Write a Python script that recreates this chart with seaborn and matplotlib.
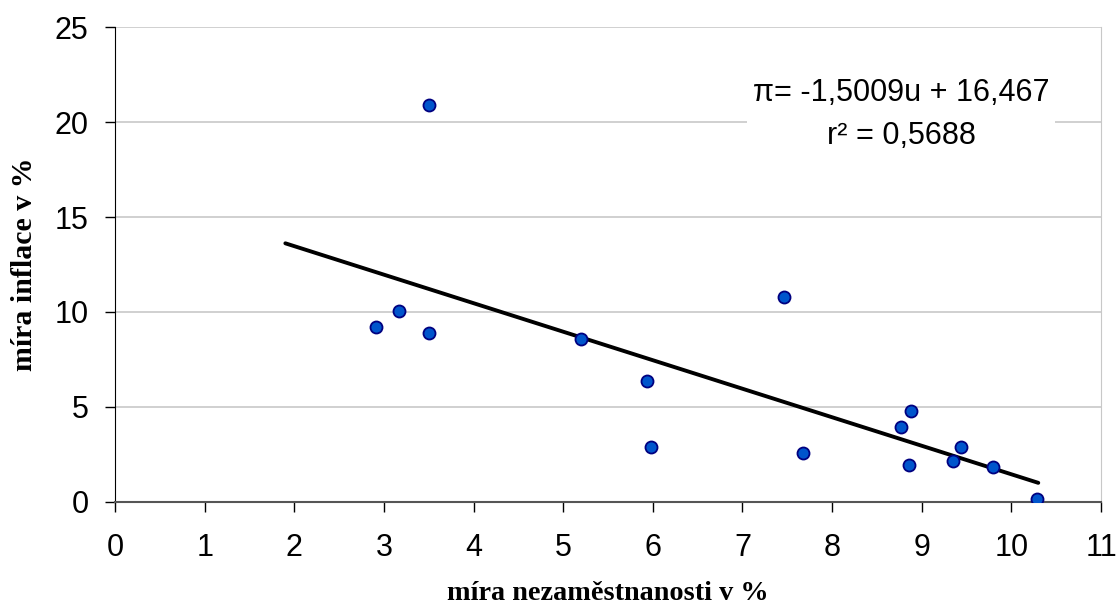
import matplotlib
matplotlib.use("Agg")
import matplotlib.pyplot as plt
import pandas as pd
import seaborn as sns

# unemployment (%) vs inflation (%)
unemployment = [2.91, 3.17, 3.50, 3.50, 5.20, 5.94, 5.98, 7.46, 7.68, 8.77, 8.88, 8.86, 9.35, 9.44, 9.80, 10.29]
inflation = [9.2, 10.05, 8.9, 20.9, 8.58, 6.37, 2.89, 10.8, 2.58, 3.95, 4.79, 1.95, 2.16, 2.89, 1.84, 0.16]

# linear trend as printed on the chart
slope = -1.5009
intercept = 16.467
r_squared = 0.5688
trend_x = [1.9, 10.3]

x_ticks = list(range(0, 12))
y_ticks = [0, 5, 10, 15, 20, 25]

df = pd.DataFrame({"u": unemployment, "pi": inflation})
trend = pd.DataFrame({"u": trend_x, "pi": [slope * v + intercept for v in trend_x]})

sns.set_style("white")
plt.rcParams['font.family'] = ['Liberation Sans', 'DejaVu Sans']
plt.rcParams['text.color'] = 'black'
plt.rcParams['axes.labelcolor'] = 'black'
plt.rcParams['xtick.color'] = 'black'
plt.rcParams['ytick.color'] = 'black'

fig = plt.figure(figsize=(11.17, 6.07), dpi=100)
ax = fig.add_axes([0.103, 0.173, 0.8827, 0.7825])

for y in y_ticks[1:]:
    ax.axhline(y, color='#c8c8c8', lw=1.2, zorder=0)

sns.lineplot(data=trend, x="u", y="pi", color='black', lw=2.8, ax=ax, zorder=2)
sns.scatterplot(data=df, x="u", y="pi", s=75, color='#0055cc', edgecolor='#000080',
                linewidth=1.3, ax=ax, zorder=3)

ax.set_xlim(0, 11)
ax.set_ylim(0, 25)
ax.set_xticks(x_ticks)
ax.set_yticks(y_ticks)
ax.tick_params(axis='both', labelsize=22, length=7.2, width=1, colors='black',
               bottom=True, left=True, direction='out')
ax.tick_params(axis='x', pad=15)
ax.tick_params(axis='y', pad=12)

ax.spines['left'].set_color('black')
ax.spines['bottom'].set_color('#555555')
ax.spines['bottom'].set_linewidth(1.5)
ax.spines['right'].set_color('#c8c8c8')
ax.spines['top'].set_visible(False)

ax.set_xlabel('míra nezaměstnanosti v %', family=['Liberation Serif'], fontweight='bold',
              fontsize=20.3, labelpad=13)
ax.set_ylabel('míra inflace v %', family=['Liberation Serif'], fontweight='bold',
              fontsize=21.5, labelpad=12)

eq = f"π= {slope:.4f}u + {intercept:.3f}".replace('.', ',')
r2 = f"r² = {r_squared:.4f}".replace('.', ',')
ax.text(8.77, 20.4, eq + "\n" + r2, ha='center', va='center', fontsize=22,
        linespacing=1.55, zorder=4,
        bbox=dict(facecolor='white', edgecolor='none', pad=4))

fig.savefig("out.png", dpi=100)
